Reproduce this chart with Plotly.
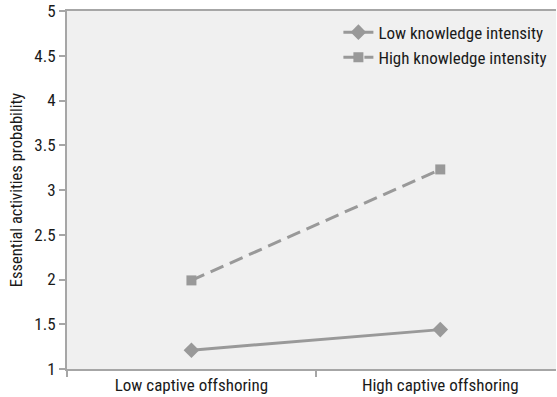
import plotly.graph_objects as go

categories = ["Low captive offshoring", "High captive offshoring"]
low_knowledge = [1.21, 1.44]
high_knowledge = [1.99, 3.23]
y_ticks = [1, 1.5, 2, 2.5, 3, 3.5, 4, 4.5, 5]

FONT = "Liberation Sans Narrow, Arial Narrow, Roboto Condensed, sans-serif"
GREY = "#999999"
AXIS = "#a6a6a6"
TEXT = "#1a1a1a"

fig = go.Figure()
fig.add_trace(go.Scatter(
    x=categories, y=low_knowledge, name="Low knowledge intensity",
    mode="lines+markers",
    line=dict(color=GREY, width=3),
    marker=dict(symbol="diamond", size=12, color=GREY),
))
fig.add_trace(go.Scatter(
    x=categories, y=high_knowledge, name="High knowledge intensity",
    mode="lines+markers",
    line=dict(color=GREY, width=3, dash="14px,7px"),
    marker=dict(symbol="square", size=10, color=GREY),
))

fig.update_layout(
    width=557, height=397,
    margin=dict(l=67, r=1, t=11, b=28, autoexpand=False),
    paper_bgcolor="white",
    plot_bgcolor="#f0f0f0",
    font=dict(family=FONT, size=17, color=TEXT),
    showlegend=True,
    legend=dict(
        x=0.555, y=0.99, xanchor="left", yanchor="top",
        bgcolor="rgba(0,0,0,0)", font=dict(size=17, color=TEXT),
        tracegroupgap=0, itemwidth=30,
    ),
    xaxis=dict(
        type="category", range=[-0.5, 1.465], automargin=False,
        showline=True, linecolor=AXIS, linewidth=2, mirror=True,
        showgrid=False, zeroline=False,
        ticks="outside", ticklen=6, tickcolor=AXIS, tickwidth=1.5,
        tickson="boundaries", ticklabelstandoff=0,
        tickfont=dict(size=17, color=TEXT),
    ),
    yaxis=dict(
        range=[1, 5], tickvals=y_ticks, automargin=False,
        ticktext=[f"{v:g}" for v in y_ticks],
        showline=True, linecolor=AXIS, linewidth=2,
        showgrid=False, zeroline=False,
        ticks="outside", ticklen=6, tickcolor=AXIS, tickwidth=1.5,
        tickfont=dict(size=17, color=TEXT),
        title=dict(text="Essential activities probability", font=dict(size=16.5, color=TEXT), standoff=8),
    ),
)

fig.write_html("out.html", config={"displayModeBar": False},
               post_script="document.body.style.margin='0';")
